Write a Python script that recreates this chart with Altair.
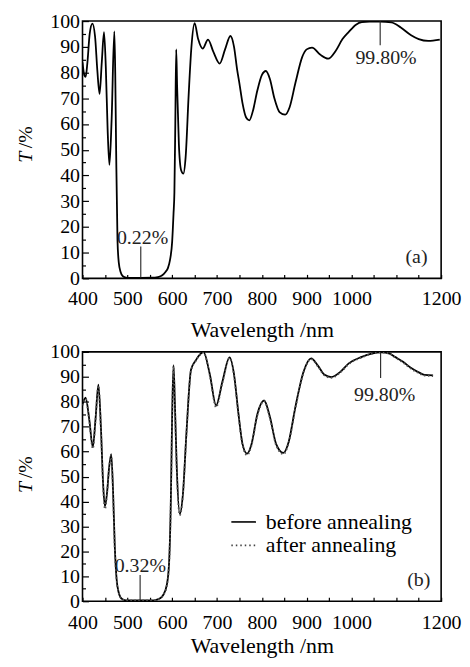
import altair as alt
import pandas as pd

# ---------------- data ----------------
wavelength_a = [400, 404, 407, 411, 416, 422, 428, 433, 438, 443, 448, 452, 456, 460, 465,
                471, 473, 475, 478, 481, 485, 490, 497, 510, 530, 555, 568, 578, 585, 590.5,
                595, 600, 603, 605, 607, 609, 611, 615, 620, 625, 630, 637, 643, 650, 658,
                668, 680, 692, 706, 718, 730, 738, 745, 750, 757, 765, 772, 780, 790, 800,
                809, 818, 828, 840, 852, 862, 875, 890, 900, 912, 930, 948, 965, 980, 994,
                1010, 1023, 1040, 1064, 1089, 1110, 1133, 1150, 1171, 1197]
transmittance_a = [84, 79, 78.3, 84, 95, 99, 94, 81, 71.7, 84, 95.7, 82, 58, 44.1, 62,
                   96, 80, 50, 15, 6, 2.5, 0.8, 0.3, 0.22, 0.22, 0.25, 0.5, 1.2, 2.5, 4,
                   7, 14.3, 25, 33.6, 60, 89, 75, 52, 42, 40.7, 47, 72, 90, 99.2, 93,
                   89.3, 92.8, 88, 83.5, 89, 94.2, 90, 81, 75.8, 68, 62.5, 61.4, 65, 73, 79,
                   80.6, 77.5, 70, 64.5, 63.6, 66.5, 76, 86, 89, 89.7, 87, 85.4, 88.5, 93, 95.8,
                   98.6, 99.6, 99.8, 99.8, 99.5, 97.5, 94.5, 93, 92.3, 92.8]

wavelength_b = [400, 407, 415, 423, 429, 435.5, 441, 446, 450, 455, 459, 464, 468, 472, 476,
                480, 485, 490, 497, 510, 530, 555, 565, 573, 580, 588, 593, 597, 600, 603,
                606, 610, 617, 624, 632, 642, 653, 662, 670, 684, 698, 712, 728, 738, 748,
                757, 767, 777, 790, 805, 818, 832, 848, 860, 875, 893, 910, 925, 940, 955,
                975, 994, 1023, 1045, 1066, 1085, 1097, 1115, 1134, 1150, 1163, 1182]
before_b = [79, 81.6, 73, 61.8, 73, 86.9, 70, 47, 38, 44, 53, 59, 45, 22, 9,
            4, 1.5, 0.7, 0.35, 0.32, 0.32, 0.35, 0.6, 1.2, 2.5, 6.5, 15, 40, 75, 94.7,
            80, 55, 35, 43, 68, 92.8, 96.7, 99, 99.9, 91, 78.5, 88, 97.8, 91, 75,
            63, 59.2, 63, 75, 80.5, 74, 63, 59.5, 64, 78, 92, 97.4, 94.5, 90.8, 89.9,
            92, 95.4, 98, 99.3, 99.8, 99.3, 98, 96, 93.4, 91.8, 90.8, 90.6]
after_b = [78.5, 81.2, 72.5, 61.2, 72.5, 86.5, 69, 46, 37, 43.5, 52.5, 58.5, 44, 21, 8.5,
           3.8, 1.4, 0.7, 0.35, 0.32, 0.32, 0.35, 0.6, 1.2, 2.4, 6.2, 14.5, 39, 74, 94.2,
           79, 54, 34.5, 42.5, 67.5, 92.5, 96.5, 98.8, 99.8, 90.5, 77.8, 87.5, 97.5, 90.5, 74.5,
           62.5, 58.6, 62.5, 74.5, 80.2, 73.5, 62.5, 59, 63.5, 77.5, 91.6, 97.1, 94.2, 90.5, 89.6,
           91.7, 95.1, 97.8, 99.2, 99.8, 99.3, 97.8, 95.7, 93.1, 91.5, 90.5, 90.3]

x_label_values = [400, 500, 600, 700, 800, 900, 1000, 1200]
x_tick_values = list(range(400, 1201, 50))
y_label_values = list(range(0, 101, 10))
y_minor_values = list(range(5, 100, 10))

# annotation texts and their anchors (data units)
notes_a_text = ["0.22%", "99.80%", "(a)"]
notes_a_wl = [534, 1077, 1145]
notes_a_t = [15.8, 85.8, 8.2]
marker_a_wl = [530, 1064]
marker_a_t = [0.22, 90.6]
marker_a_t2 = [12.4, 100]

notes_b_text = ["0.32%", "99.80%", "(b)"]
notes_b_wl = [529, 1074, 1150]
notes_b_t = [14.1, 82.6, 8.5]
marker_b_wl = [528.5, 1065]
marker_b_t = [0.32, 89.5]
marker_b_t2 = [10.5, 100]

legend_labels = ["before annealing", "after annealing"]
legend_t = [31.8, 22.4]
legend_wl_start = [732, 732]
legend_wl_end = [787, 787]
legend_text_wl = [809, 809]

# ---------------- styling ----------------
FONT = "Liberation Serif, Times New Roman, serif"
W = 361
HA = 259
HB = 251

xs = alt.Scale(domain=[400, 1200], nice=False, zero=False)
ys = alt.Scale(domain=[0, 100], nice=False, zero=False)


def X(field, axis=None):
    return alt.X(field, type="quantitative", scale=xs, axis=axis)


def Y(field, axis=None):
    return alt.Y(field, type="quantitative", scale=ys, axis=axis)


def x_label_axis(label_pad, title_pad):
    return alt.Axis(orient="bottom", values=x_label_values, ticks=False, tickSize=0,
                    domain=False, grid=False, labelPadding=label_pad, labelFlush=False,
                    labelOverlap=False, format="d", title="Wavelength /nm",
                    titlePadding=title_pad)


y_label_axis = alt.Axis(orient="left", values=y_label_values, ticks=False, tickSize=0,
                        domain=False, grid=False, labelPadding=3, labelFlush=False,
                        labelOverlap=False, format="d", title=None)
x_tick_axis = alt.Axis(orient="bottom", values=x_tick_values, labels=False, domain=False,
                       grid=False, tickSize=4, offset=-4, title=None, tickWidth=1.2)
y_major_axis = alt.Axis(orient="left", values=y_label_values, labels=False, domain=False,
                        grid=False, tickSize=6, offset=-6, title=None, tickWidth=1.2)
y_minor_axis = alt.Axis(orient="left", values=y_minor_values, labels=False, domain=False,
                        grid=False, tickSize=3, offset=-3, title=None, tickWidth=1.2)


def ytitle_layers(t_y, pct_y):
    t = alt.Chart(pd.DataFrame({"s": ["T"]})).mark_text(
        font=FONT, fontSize=20, fontStyle="italic", angle=270, align="center",
        baseline="middle", color="black").encode(
        text="s:N", x=alt.value(-57), y=alt.value(t_y))
    p = alt.Chart(pd.DataFrame({"s": ["/%"]})).mark_text(
        font=FONT, fontSize=20, angle=270, align="center",
        baseline="middle", color="black").encode(
        text="s:N", x=alt.value(-57), y=alt.value(pct_y))
    return [t, p]


def panel(df_curves, curve_styles, height, notes, markers, t_y, pct_y, xaxis, legend=None):
    layers = []
    first = df_curves[0]
    # invisible carriers for inward tick axes
    layers.append(alt.Chart(first[0]).mark_line(strokeOpacity=0).encode(
        x=X("wl", x_tick_axis), y=Y(first[1], y_major_axis)))
    layers.append(alt.Chart(first[0]).mark_line(strokeOpacity=0).encode(
        x=X("wl"), y=Y(first[1], y_minor_axis)))
    # curves
    for i, ((df, field), style) in enumerate(zip(df_curves, curve_styles)):
        if i == 0:
            enc = dict(x=X("wl", xaxis), y=Y(field, y_label_axis))
        else:
            enc = dict(x=X("wl"), y=Y(field))
        layers.append(alt.Chart(df).mark_line(interpolate="monotone", clip=True,
                                              **style).encode(**enc))
    # markers
    layers.append(alt.Chart(markers).mark_rule(color="#222", strokeWidth=1.1).encode(
        x=X("wl"), y=Y("t"), y2="t2"))
    # notes
    layers.append(alt.Chart(notes).mark_text(font=FONT, fontSize=20, color="#222",
                                             align="center", baseline="middle").encode(
        x=X("wl"), y=Y("t"), text="s:N"))
    if legend is not None:
        leg_df, leg_styles = legend
        for i, st in enumerate(leg_styles):
            layers.append(alt.Chart(leg_df.iloc[[i]]).mark_rule(**st).encode(
                x=X("wl0"), x2="wl1", y=Y("t")))
        layers.append(alt.Chart(leg_df).mark_text(font=FONT, fontSize=22, color="black",
                                                  align="left", baseline="middle").encode(
            x=X("wlt"), y=Y("t"), text="s:N"))
    layers += ytitle_layers(t_y, pct_y)
    return alt.layer(*layers).resolve_axis(x="independent", y="independent").properties(
        width=W, height=height)


solid = dict(color="black", strokeWidth=1.8)
dotted = dict(color="#555", strokeWidth=1.8, strokeDash=[1.5, 2.5])

df_a = pd.DataFrame({"wl": wavelength_a, "T": transmittance_a})
df_b = pd.DataFrame({"wl": wavelength_b, "before": before_b, "after": after_b})

notes_a = pd.DataFrame({"s": notes_a_text, "wl": notes_a_wl, "t": notes_a_t})
markers_a = pd.DataFrame({"wl": marker_a_wl, "t": marker_a_t, "t2": marker_a_t2})
notes_b = pd.DataFrame({"s": notes_b_text, "wl": notes_b_wl, "t": notes_b_t})
markers_b = pd.DataFrame({"wl": marker_b_wl, "t": marker_b_t, "t2": marker_b_t2})
leg_df = pd.DataFrame({"s": legend_labels, "t": legend_t, "wl0": legend_wl_start,
                       "wl1": legend_wl_end, "wlt": legend_text_wl})

panel_a = panel([(df_a, "T")], [solid], HA, notes_a, markers_a, 137, 117,
                x_label_axis(10, 12))
panel_b = panel([(df_b, "before"), (df_b, "after")], [solid, dotted], HB, notes_b, markers_b,
                136.5, 116, x_label_axis(11, 4),
                legend=(leg_df, [dict(color="black", strokeWidth=1.6),
                                 dict(color="#444", strokeWidth=1.6, strokeDash=[1.5, 3])]))

chart = alt.vconcat(panel_a, panel_b, spacing=-1).properties(
    padding={"left": 7, "top": 0, "right": 0, "bottom": 0}
).configure_view(stroke="black", strokeWidth=1.6).configure_axis(
    labelFont=FONT, labelFontSize=20, labelColor="black",
    titleFont=FONT, titleFontSize=22, titleFontWeight="normal", titleColor="black",
    tickColor="black"
)

chart.save("out.html", embed_options={"renderer": "svg", "actions": False})
